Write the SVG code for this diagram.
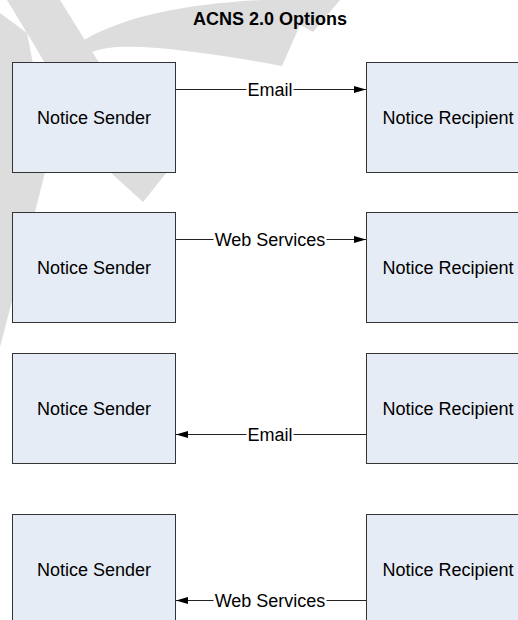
<svg xmlns="http://www.w3.org/2000/svg" width="518" height="620" viewBox="0 0 518 620">
  <defs>
    <marker id="arrow" markerUnits="userSpaceOnUse" markerWidth="12" markerHeight="8" refX="12" refY="4" orient="auto">
      <path d="M0,0.5 L12,4 L0,7.5 Z" fill="#000"/>
    </marker>
    <style>
      .wm { fill: #dddddd; stroke: none; }
      .box { fill: #e6ecf6; stroke: #333333; stroke-width: 1; }
      .lbl { font-family: "Liberation Sans", Arial, sans-serif; font-size: 18px; fill: #000; text-anchor: middle; }
      .title { font-family: "Liberation Sans", Arial, sans-serif; font-size: 18px; font-weight: bold; fill: #000; text-anchor: middle; }
      .conn { fill: none; stroke: #222222; stroke-width: 1; }
    </style>
  </defs>
  <rect x="0" y="0" width="518" height="620" fill="#ffffff"/>
  <g id="watermark">
    <polygon class="wm" points="7,0 60,0 167,172 143,202 110,172 27,33"/>
    <path class="wm" d="M0,13 L27,33 L44,120 L45,172 C37,205 15,290 0,347 Z"/>
    <path class="wm" d="M84,40 C130,14 190,4 262,0 L340,0 L313,32 L300,25 L282,66 C240,58 190,50 143,47 C120,46 104,47 92,52 Z"/>
  </g>
  <g id="title">
    <text class="title" x="270" y="25">ACNS 2.0 Options</text>
  </g>
  <g id="sender1"><rect class="box" x="12.5" y="62.5" width="163" height="110"/><text class="lbl" x="94" y="123.5">Notice Sender</text></g>
  <g id="recipient1"><rect class="box" x="366.5" y="62.5" width="163" height="110"/><text class="lbl" x="448" y="123.5">Notice Recipient</text></g>
  <g id="sender2"><rect class="box" x="12.5" y="212.5" width="163" height="110"/><text class="lbl" x="94" y="273.5">Notice Sender</text></g>
  <g id="recipient2"><rect class="box" x="366.5" y="212.5" width="163" height="110"/><text class="lbl" x="448" y="273.5">Notice Recipient</text></g>
  <g id="sender3"><rect class="box" x="12.5" y="353.5" width="163" height="110"/><text class="lbl" x="94" y="414.5">Notice Sender</text></g>
  <g id="recipient3"><rect class="box" x="366.5" y="353.5" width="163" height="110"/><text class="lbl" x="448" y="414.5">Notice Recipient</text></g>
  <g id="sender4"><rect class="box" x="12.5" y="514.5" width="163" height="110"/><text class="lbl" x="94" y="575.5">Notice Sender</text></g>
  <g id="recipient4"><rect class="box" x="366.5" y="514.5" width="163" height="110"/><text class="lbl" x="448" y="575.5">Notice Recipient</text></g>
  <g id="connectors">
    <path class="conn" d="M175.5,89.5 H246.5"/>
    <path class="conn" d="M293.5,89.5 H366" marker-end="url(#arrow)"/>
    <text class="lbl" x="270" y="95.5">Email</text>
    <path class="conn" d="M175.5,239.5 H213.5"/>
    <path class="conn" d="M326.5,239.5 H366" marker-end="url(#arrow)"/>
    <text class="lbl" x="270" y="245.5">Web Services</text>
    <path class="conn" d="M366,434.5 H293.5"/>
    <path class="conn" d="M246.5,434.5 H176" marker-end="url(#arrow)"/>
    <text class="lbl" x="270" y="440.5">Email</text>
    <path class="conn" d="M366,600.5 H326.5"/>
    <path class="conn" d="M213.5,600.5 H176" marker-end="url(#arrow)"/>
    <text class="lbl" x="270" y="606.5">Web Services</text>
  </g>
</svg>
